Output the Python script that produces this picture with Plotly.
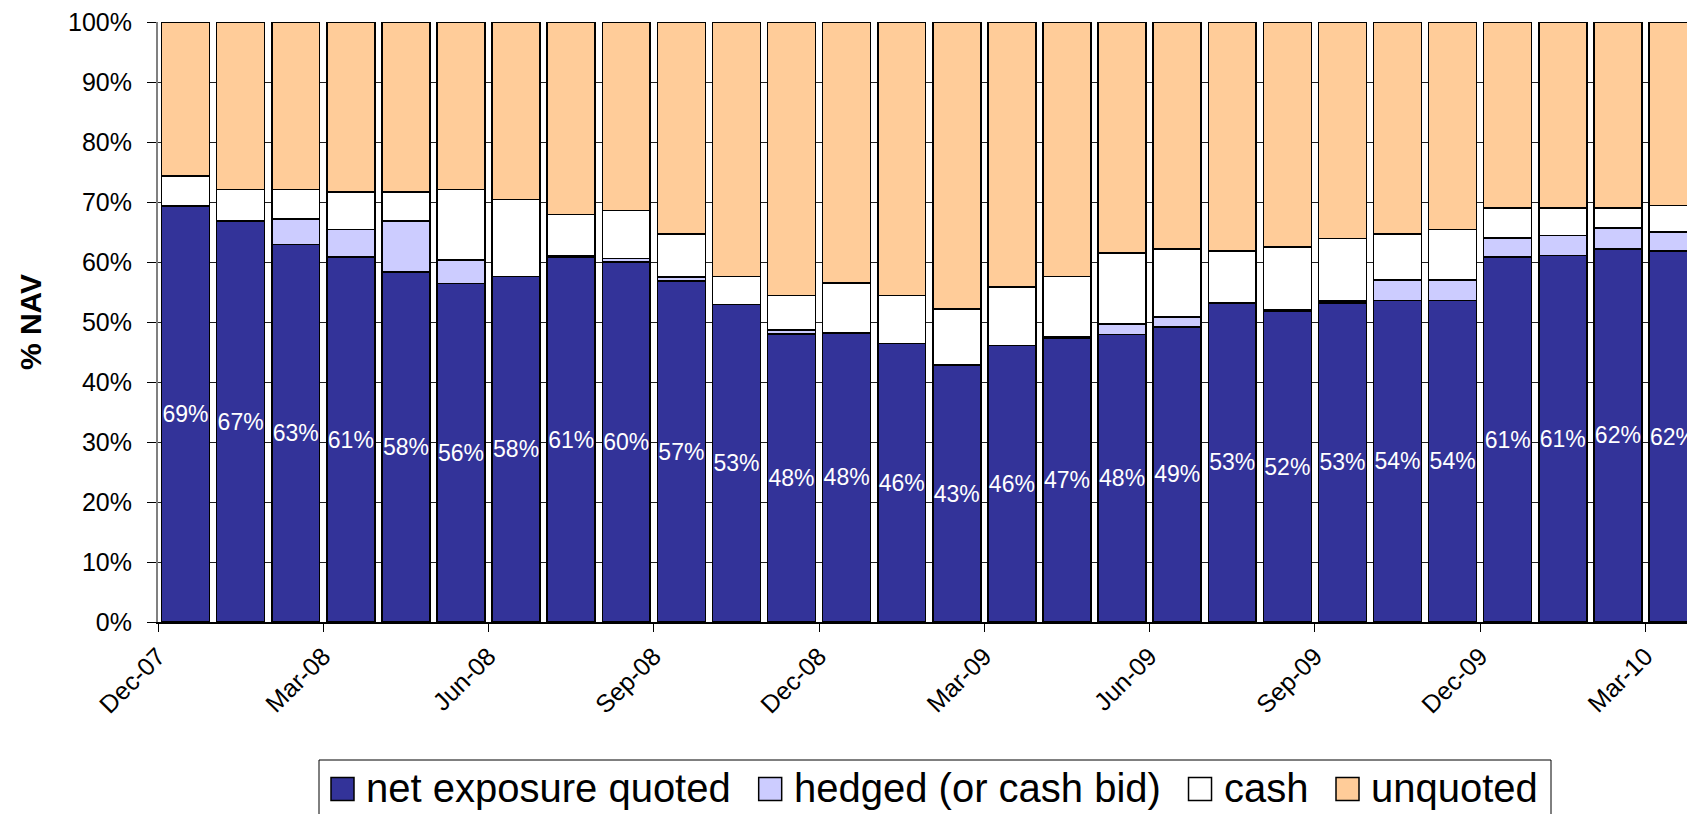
import plotly.graph_objects as go

months = ["Dec-07", "Jan-08", "Feb-08", "Mar-08", "Apr-08", "May-08", "Jun-08", "Jul-08",
          "Aug-08", "Sep-08", "Oct-08", "Nov-08", "Dec-08", "Jan-09", "Feb-09", "Mar-09",
          "Apr-09", "May-09", "Jun-09", "Jul-09", "Aug-09", "Sep-09", "Oct-09", "Nov-09",
          "Dec-09", "Jan-10", "Feb-10", "Mar-10"]

net_exposure_quoted = [69.3, 66.8, 62.9, 60.8, 58.3, 56.4, 57.6, 60.8, 60.0, 56.8, 52.9, 48.0,
                       48.2, 46.4, 42.8, 46.1, 47.3, 47.9, 49.2, 53.2, 51.8, 53.2, 53.6, 53.6,
                       60.8, 61.1, 62.2, 61.8]
hedged = [0.0, 0.0, 4.3, 4.6, 8.5, 3.9, 0.0, 0.3, 0.6, 0.7, 0.0, 0.7,
          0.0, 0.0, 0.0, 0.0, 0.3, 1.8, 1.6, 0.0, 0.3, 0.3, 3.4, 3.4,
          3.2, 3.3, 3.5, 3.2]
cash = [5.0, 5.3, 4.9, 6.3, 4.9, 11.8, 12.8, 6.8, 8.0, 7.2, 4.7, 5.7,
        8.3, 8.0, 9.4, 9.7, 10.0, 11.8, 11.4, 8.6, 10.4, 10.4, 7.7, 8.4,
        5.0, 4.6, 3.3, 4.4]
unquoted = [round(100 - a - b - c, 1) for a, b, c in zip(net_exposure_quoted, hedged, cash)]

series_names = ["net exposure quoted", "hedged (or cash bid)", "cash", "unquoted"]
series_colors = ["#333399", "#CCCCFF", "#FFFFFF", "#FFCC99"]

quarter_labels = ["Dec-07", "Mar-08", "Jun-08", "Sep-08", "Dec-08", "Mar-09",
                  "Jun-09", "Sep-09", "Dec-09", "Mar-10"]
y_ticks = list(range(0, 101, 10))
y_tick_labels = [f"{v}%" for v in y_ticks]

x = list(range(len(months)))
tick_positions = [months.index(m) - 0.5 for m in quarter_labels]

FONT = "Arial, Liberation Sans, sans-serif"
OFF = 8  # default page body margin
W, H = 1695 - OFF, 814 - OFF
ML, MR, MT, MB = 158 - OFF, 0, 22 - OFF, 192
PW = W - ML - MR
PH = H - MT - MB

fig = go.Figure()
all_values = [net_exposure_quoted, hedged, cash, unquoted]
for i, (name, col, vals) in enumerate(zip(series_names, series_colors, all_values)):
    kw = {}
    if i == 0:
        kw = dict(text=[f"{round(v)}%" for v in vals], textposition="inside",
                  insidetextanchor="middle", textangle=0,
                  textfont=dict(color="white", size=23, family=FONT),
                  constraintext="none")
    fig.add_trace(go.Bar(x=x, y=vals, name=name, width=0.87, showlegend=False,
                         marker=dict(color=col, line=dict(color="black", width=1.5)),
                         hoverinfo="skip", **kw))

# ---- legend drawn as shapes + text (Excel-like large swatches) ----
ARIAL = {' ': 278, '(': 333, ')': 333, 'a': 556, 'b': 556, 'c': 500, 'd': 556, 'e': 556,
         'g': 556, 'h': 556, 'i': 222, 'n': 556, 'o': 556, 'p': 556, 'q': 556, 'r': 333,
         's': 500, 't': 278, 'u': 556, 'x': 500}
LEG_FONT = 40


def text_w(s, size):
    return sum(ARIAL.get(ch, 556) for ch in s) * size / 1000.0


def px(xp):
    return (xp - OFF - ML) / PW


def py(yp):
    return (H - MB - (yp - OFF)) / PH


shapes = []
annotations = []
box_l, box_r, box_t = 319, 1551, 760
shapes.append(dict(type="rect", xref="paper", yref="paper", x0=px(box_l), x1=px(box_r),
                   y0=py(box_t), y1=py(H + 60), line=dict(color="black", width=1),
                   fillcolor="white", layer="above"))
sq, gap_txt, gap_item = 23, 12, 28
cx = 331
cy = 789
for name, col in zip(series_names, series_colors):
    shapes.append(dict(type="rect", xref="paper", yref="paper", x0=px(cx), x1=px(cx + sq),
                       y0=py(cy + sq / 2), y1=py(cy - sq / 2),
                       line=dict(color="black", width=1.5), fillcolor=col, layer="above"))
    tx = cx + sq + gap_txt
    annotations.append(dict(text=name, x=px(tx - 2), y=py(cy - 1), xref="paper", yref="paper",
                            xanchor="left", yanchor="middle", showarrow=False,
                            font=dict(size=LEG_FONT, family=FONT, color="black")))
    cx = tx + text_w(name, LEG_FONT) + gap_item

fig.update_layout(
    barmode="stack",
    width=W, height=H,
    margin=dict(l=ML, r=MR, t=MT, b=MB, autoexpand=False),
    paper_bgcolor="white", plot_bgcolor="white",
    font=dict(family=FONT, color="black", size=25),
    uniformtext=dict(minsize=23, mode="show"),
    showlegend=False,
    shapes=shapes,
    annotations=annotations,
    xaxis=dict(range=[-0.5, 27.4], tickmode="array", tickvals=tick_positions,
               ticktext=quarter_labels, tickangle=-45, ticks="outside", ticklen=8,
               tickcolor="black", showline=True, linecolor="black", linewidth=1.5,
               showgrid=False, zeroline=False, automargin=False,
               ticklabeloverflow="allow",
               tickfont=dict(size=25, family=FONT)),
    yaxis=dict(range=[0, 100], tickmode="array", tickvals=y_ticks, ticktext=y_tick_labels,
               ticks="outside", ticklen=9, tickcolor="black", showline=True,
               linecolor="#808080", linewidth=2, showgrid=True, gridcolor="#222222",
               gridwidth=1, zeroline=False, ticklabelstandoff=10, automargin=False,
               ticklabeloverflow="allow",
               tickfont=dict(size=25, family=FONT),
               title=dict(text="<b>% NAV</b>", font=dict(size=30, family=FONT),
                          standoff=18)),
)

fig.write_html("out.html")
